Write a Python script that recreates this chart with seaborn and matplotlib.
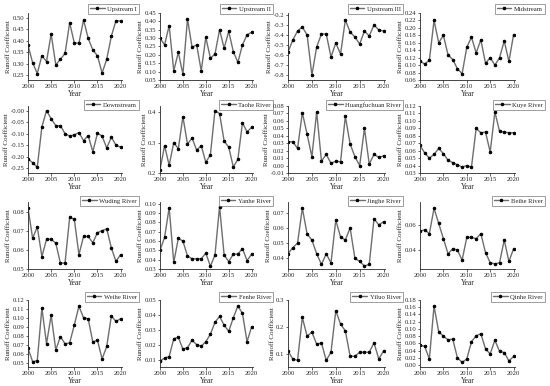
import numpy as np
import pandas as pd
import matplotlib
matplotlib.use("Agg")
import matplotlib.pyplot as plt
import seaborn as sns

years = list(range(2000, 2021))

upstream_1 = [0.38, 0.305, 0.258, 0.335, 0.31, 0.43, 0.295, 0.32, 0.345, 0.478, 0.39, 0.39, 0.49, 0.41, 0.36, 0.335, 0.26, 0.32, 0.42, 0.487, 0.485]
upstream_2 = [0.30, 0.26, 0.375, 0.105, 0.215, 0.085, 0.415, 0.245, 0.26, 0.105, 0.305, 0.18, 0.205, 0.35, 0.24, 0.34, 0.22, 0.155, 0.26, 0.32, 0.335]
upstream_3 = [-0.57, -0.45, -0.36, -0.32, -0.40, -0.80, -0.52, -0.39, -0.39, -0.62, -0.48, -0.59, -0.25, -0.37, -0.42, -0.49, -0.36, -0.41, -0.30, -0.35, -0.36]
midstream = [0.11, 0.103, 0.113, 0.22, 0.16, 0.18, 0.127, 0.115, 0.09, 0.077, 0.148, 0.175, 0.133, 0.168, 0.105, 0.12, 0.10, 0.12, 0.165, 0.11, 0.182]
downstream = [-0.21, -0.225, -0.245, -0.07, 0.0, -0.035, -0.065, -0.065, -0.10, -0.11, -0.105, -0.095, -0.13, -0.108, -0.178, -0.098, -0.11, -0.162, -0.115, -0.15, -0.158]
taohe = [0.21, 0.29, 0.225, 0.30, 0.28, 0.385, 0.295, 0.315, 0.275, 0.29, 0.235, 0.26, 0.405, 0.395, 0.305, 0.285, 0.22, 0.245, 0.365, 0.335, 0.35]
huangfuchuan = [0.032, 0.032, 0.023, 0.071, 0.042, 0.012, 0.072, 0.006, 0.015, 0.003, 0.006, 0.005, 0.066, 0.029, 0.012, 0.0, 0.050, 0.002, 0.015, 0.011, 0.013]
kuye = [0.067, 0.057, 0.050, 0.055, 0.063, 0.056, 0.047, 0.044, 0.041, 0.038, 0.040, 0.038, 0.090, 0.084, 0.085, 0.058, 0.112, 0.086, 0.085, 0.084, 0.084]
wuding = [0.082, 0.066, 0.072, 0.0565, 0.0655, 0.0655, 0.0635, 0.053, 0.0532, 0.077, 0.076, 0.0575, 0.067, 0.067, 0.0637, 0.069, 0.070, 0.071, 0.061, 0.054, 0.0575]
yanhe = [0.050, 0.064, 0.096, 0.037, 0.063, 0.060, 0.044, 0.041, 0.041, 0.041, 0.047, 0.033, 0.045, 0.097, 0.045, 0.038, 0.046, 0.046, 0.052, 0.039, 0.046]
jinghe = [0.043, 0.047, 0.050, 0.073, 0.056, 0.052, 0.043, 0.036, 0.043, 0.037, 0.065, 0.054, 0.052, 0.060, 0.040, 0.038, 0.035, 0.036, 0.066, 0.062, 0.064]
beihe = [0.055, 0.056, 0.053, 0.073, 0.061, 0.049, 0.037, 0.041, 0.040, 0.032, 0.050, 0.050, 0.049, 0.053, 0.038, 0.030, 0.029, 0.030, 0.048, 0.031, 0.041]
weihe = [0.066, 0.051, 0.052, 0.111, 0.071, 0.103, 0.064, 0.079, 0.071, 0.072, 0.092, 0.113, 0.100, 0.099, 0.073, 0.075, 0.054, 0.068, 0.102, 0.096, 0.099]
fenhe = [0.009, 0.011, 0.012, 0.024, 0.025, 0.017, 0.018, 0.023, 0.020, 0.019, 0.022, 0.027, 0.035, 0.039, 0.033, 0.029, 0.038, 0.046, 0.041, 0.022, 0.032]
yiluo = [0.11, 0.08, 0.075, 0.235, 0.165, 0.18, 0.135, 0.14, 0.075, 0.105, 0.26, 0.21, 0.185, 0.09, 0.09, 0.105, 0.105, 0.105, 0.14, 0.08, 0.11]
qinhe = [0.055, 0.052, 0.017, 0.163, 0.092, 0.08, 0.07, 0.072, 0.02, 0.008, 0.017, 0.065, 0.081, 0.087, 0.045, 0.031, 0.069, 0.038, 0.035, 0.012, 0.024]

names = ["Upstream I", "Upstream II", "Upstream III", "Midstream",
         "Downstream", "Taohe River", "Huangfuchuan River", "Kuye River",
         "Wuding River", "Yanhe River", "Jinghe River", "Beihe River",
         "Weihe River", "Fenhe River", "Yiluo River", "Qinhe River"]
series = [upstream_1, upstream_2, upstream_3, midstream,
          downstream, taohe, huangfuchuan, kuye,
          wuding, yanhe, jinghe, beihe,
          weihe, fenhe, yiluo, qinhe]

# (ylim_low, ylim_high, tick_start, tick_stop, tick_step, fmt)
yspec = [
    (0.23, 0.52, 0.25, 0.50, 0.05, "%.2f"),
    (0.05, 0.45, 0.05, 0.45, 0.05, "%.2f"),
    (-0.85, -0.18, -0.8, -0.2, 0.1, "%.1f"),
    (0.06, 0.24, 0.06, 0.24, 0.02, "%.2f"),
    (-0.27, 0.02, -0.25, 0.0, 0.05, "%.2f"),
    (0.2, 0.42, 0.2, 0.4, 0.1, "%.1f"),
    (-0.01, 0.08, -0.01, 0.08, 0.01, "%.2f"),
    (0.03, 0.12, 0.03, 0.12, 0.01, "%.2f"),
    (0.05, 0.085, 0.05, 0.08, 0.01, "%.2f"),
    (0.03, 0.102, 0.03, 0.10, 0.01, "%.2f"),
    (0.033, 0.077, 0.04, 0.07, 0.01, "%.2f"),
    (0.025, 0.078, 0.04, 0.06, 0.02, "%.2f"),
    (0.045, 0.12, 0.05, 0.12, 0.01, "%.2f"),
    (0.005, 0.05, 0.01, 0.05, 0.01, "%.2f"),
    (0.05, 0.30, 0.1, 0.3, 0.1, "%.1f"),
    (-0.005, 0.18, 0.0, 0.18, 0.02, "%.2f"),
]

sns.set_style("ticks")
plt.rcParams['font.family'] = ['Liberation Serif', 'DejaVu Serif']

W, H = 550, 386
fig = plt.figure(figsize=(W / 100, H / 100), dpi=100)

col_left = [28, 160, 288, 420]
col_w = [94, 93, 97, 95]
row_top = [13, 106, 202, 300]
ah = 67
leg_right = [139, 273, 403, 545]
leg_top = [4, 100, 196, 292]

for i, (name, vals, spec) in enumerate(zip(names, series, yspec)):
    r, c = divmod(i, 4)
    left = col_left[c] / W
    bottom = 1 - (row_top[r] + ah) / H
    ax = fig.add_axes([left, bottom, col_w[c] / W, ah / H])
    df = pd.DataFrame({"Year": years, "value": vals})
    sns.lineplot(data=df, x="Year", y="value", ax=ax, color="#6e6e6e",
                 linewidth=1.0, marker="o", markersize=1.8,
                 markerfacecolor="black", markeredgecolor="black",
                 label=name)
    ax.set_xlim(2000, 2020.3)
    ax.set_xticks([2000, 2005, 2010, 2015, 2020])
    lo, hi, t0, t1, st, fmt = spec
    ax.set_ylim(lo, hi)
    ticks = np.arange(t0, t1 + st / 2, st)
    ax.set_yticks(ticks)
    ax.set_yticklabels([fmt % t for t in ticks])
    ax.set_xlabel("Year", fontsize=5.5, labelpad=1)
    ax.set_ylabel("Runoff Coefficient", fontsize=5, labelpad=1)
    ax.tick_params(axis="both", labelsize=4.8, length=1.8, width=0.5, pad=0.8)
    for s in ["left", "bottom"]:
        ax.spines[s].set_linewidth(0.6)
    sns.despine(ax=ax)
    leg = ax.legend(loc="upper right",
                    bbox_to_anchor=(leg_right[c] / W, 1 - leg_top[r] / H),
                    bbox_transform=fig.transFigure, fontsize=4.8,
                    frameon=True, fancybox=False, edgecolor="#555555",
                    handlelength=2.2, borderpad=0.3, handletextpad=0.4,
                    borderaxespad=0)
    leg.get_frame().set_linewidth(0.5)

fig.savefig("out.png", dpi=100)
